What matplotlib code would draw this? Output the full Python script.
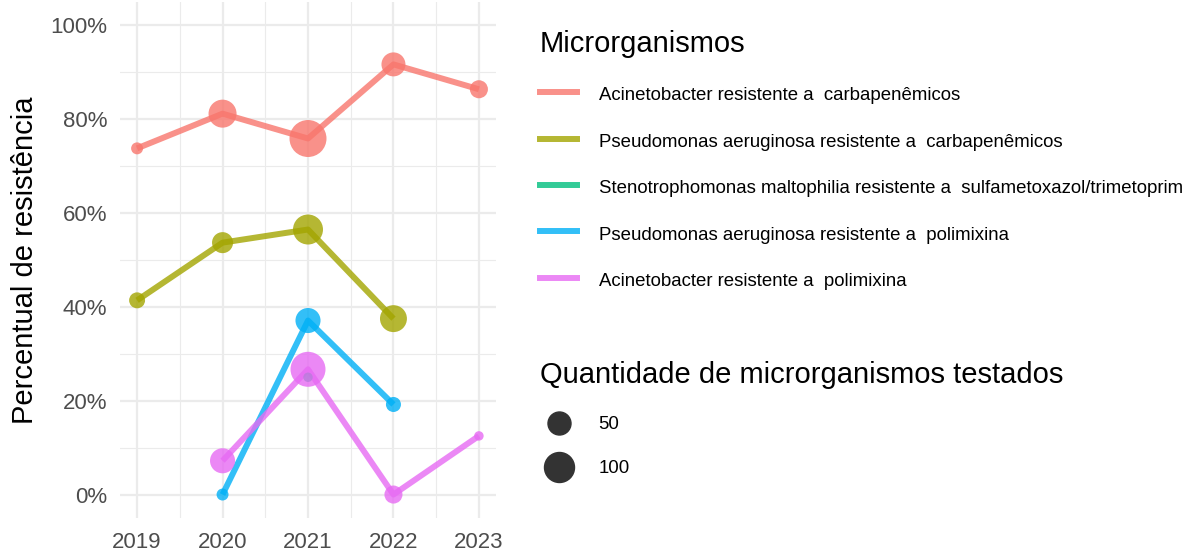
import numpy as np
import matplotlib
matplotlib.use('Agg')
import matplotlib.pyplot as plt
from matplotlib.lines import Line2D
from matplotlib.ticker import FuncFormatter, MultipleLocator

plt.rcParams['font.family'] = ['Liberation Sans', 'DejaVu Sans']

years = [2019, 2020, 2021, 2022, 2023]

series_names = [
    "Acinetobacter resistente a  carbapenêmicos",
    "Pseudomonas aeruginosa resistente a  carbapenêmicos",
    "Stenotrophomonas maltophilia resistente a  sulfametoxazol/trimetoprim",
    "Pseudomonas aeruginosa resistente a  polimixina",
    "Acinetobacter resistente a  polimixina",
]
colors = ["#F8766D", "#A3A500", "#00BF7D", "#00B0F6", "#E76BF3"]

# percentual de resistencia por ano (nan = sem dado)
acineto_carba = [73.8, 81.2, 75.9, 91.7, 86.4]
pseudo_carba = [41.4, 53.7, 56.5, 37.5, np.nan]
steno_sulfa = [np.nan, np.nan, 25.0, np.nan, np.nan]
pseudo_poli = [np.nan, 0.0, 37.1, 19.2, np.nan]
acineto_poli = [np.nan, 7.2, 26.7, 0.0, 12.5]

# quantidade de microrganismos testados
acineto_carba_n = [6, 84, 167, 56, 25]
pseudo_carba_n = [17, 39, 100, 76, 0]
steno_sulfa_n = [0, 0, 2, 0, 0]
pseudo_poli_n = [0, 6, 63, 14, 0]
acineto_poli_n = [0, 63, 146, 25, 2]

size_breaks = [50, 100]

pct_values = [acineto_carba, pseudo_carba, steno_sulfa, pseudo_poli, acineto_poli]
counts = [acineto_carba_n, pseudo_carba_n, steno_sulfa_n, pseudo_poli_n, acineto_poli_n]


def marker_diam(n):
    # diametro em pontos (aprox. escala de area do ggplot)
    px = 6.1 + 2.39 * np.sqrt(np.asarray(n, dtype=float))
    return px * 0.72


fig = plt.figure(figsize=(11.93, 5.52), dpi=100)
ax = fig.add_axes([120 / 1193, 34 / 552, 376 / 1193, 516 / 552])

for vals, ns, col in zip(pct_values, counts, colors):
    vals = np.asarray(vals, dtype=float)
    ax.plot(years, vals, color=col, lw=4.3, alpha=0.8, solid_capstyle='butt', zorder=3)
    ok = ~np.isnan(vals)
    d = marker_diam(ns)
    ax.scatter(np.asarray(years)[ok], vals[ok], s=d[ok] ** 2, color=col, alpha=0.8,
               edgecolors='none', zorder=4)

ax.set_xlim(2018.8, 2023.2)
ax.set_ylim(-5, 105)
ax.set_xticks(years)
ax.xaxis.set_minor_locator(MultipleLocator(0.5))
ax.yaxis.set_major_locator(MultipleLocator(20))
ax.yaxis.set_minor_locator(MultipleLocator(10))
ax.yaxis.set_major_formatter(FuncFormatter(lambda v, p: f"{v:.0f}%"))

ax.grid(which='major', color='#EBEBEB', lw=1.6, zorder=0)
ax.grid(which='minor', color='#EBEBEB', lw=0.8, zorder=0)
ax.set_axisbelow(True)
for s in ax.spines.values():
    s.set_visible(False)
ax.tick_params(which='both', length=0, labelsize=16, labelcolor='#4D4D4D')
ax.tick_params(axis='y', pad=9)
ax.tick_params(axis='x', pad=10)
ax.set_ylabel("Percentual de resistência", fontsize=21, labelpad=8.5)

# legenda das cores
handles = [Line2D([], [], color=c, lw=4.3, alpha=0.8) for c in colors]
leg1 = fig.legend(handles, series_names, loc='upper left', bbox_to_anchor=(540 / 1193, 1 - 30 / 552),
                  frameon=False, fontsize=13.4, title="Microrganismos", title_fontsize=21,
                  handlelength=2.0, handleheight=1.29, handletextpad=1.15, labelspacing=1.4,
                  borderpad=0, borderaxespad=0)
leg1._legend_box.align = "left"

# legenda dos tamanhos
size_handles = [Line2D([], [], ls='none', marker='o', color='#333333', markersize=marker_diam(b))
                for b in size_breaks]
leg2 = fig.legend(size_handles, [str(b) for b in size_breaks], loc='upper left',
                  bbox_to_anchor=(540 / 1193, 1 - 361 / 552), frameon=False, fontsize=13.4,
                  title="Quantidade de microrganismos testados", title_fontsize=21,
                  handlelength=2.0, handletextpad=1.15, labelspacing=1.45, borderpad=0,
                  borderaxespad=0)
leg2._legend_box.align = "left"

fig.savefig("out.png", dpi=100)
